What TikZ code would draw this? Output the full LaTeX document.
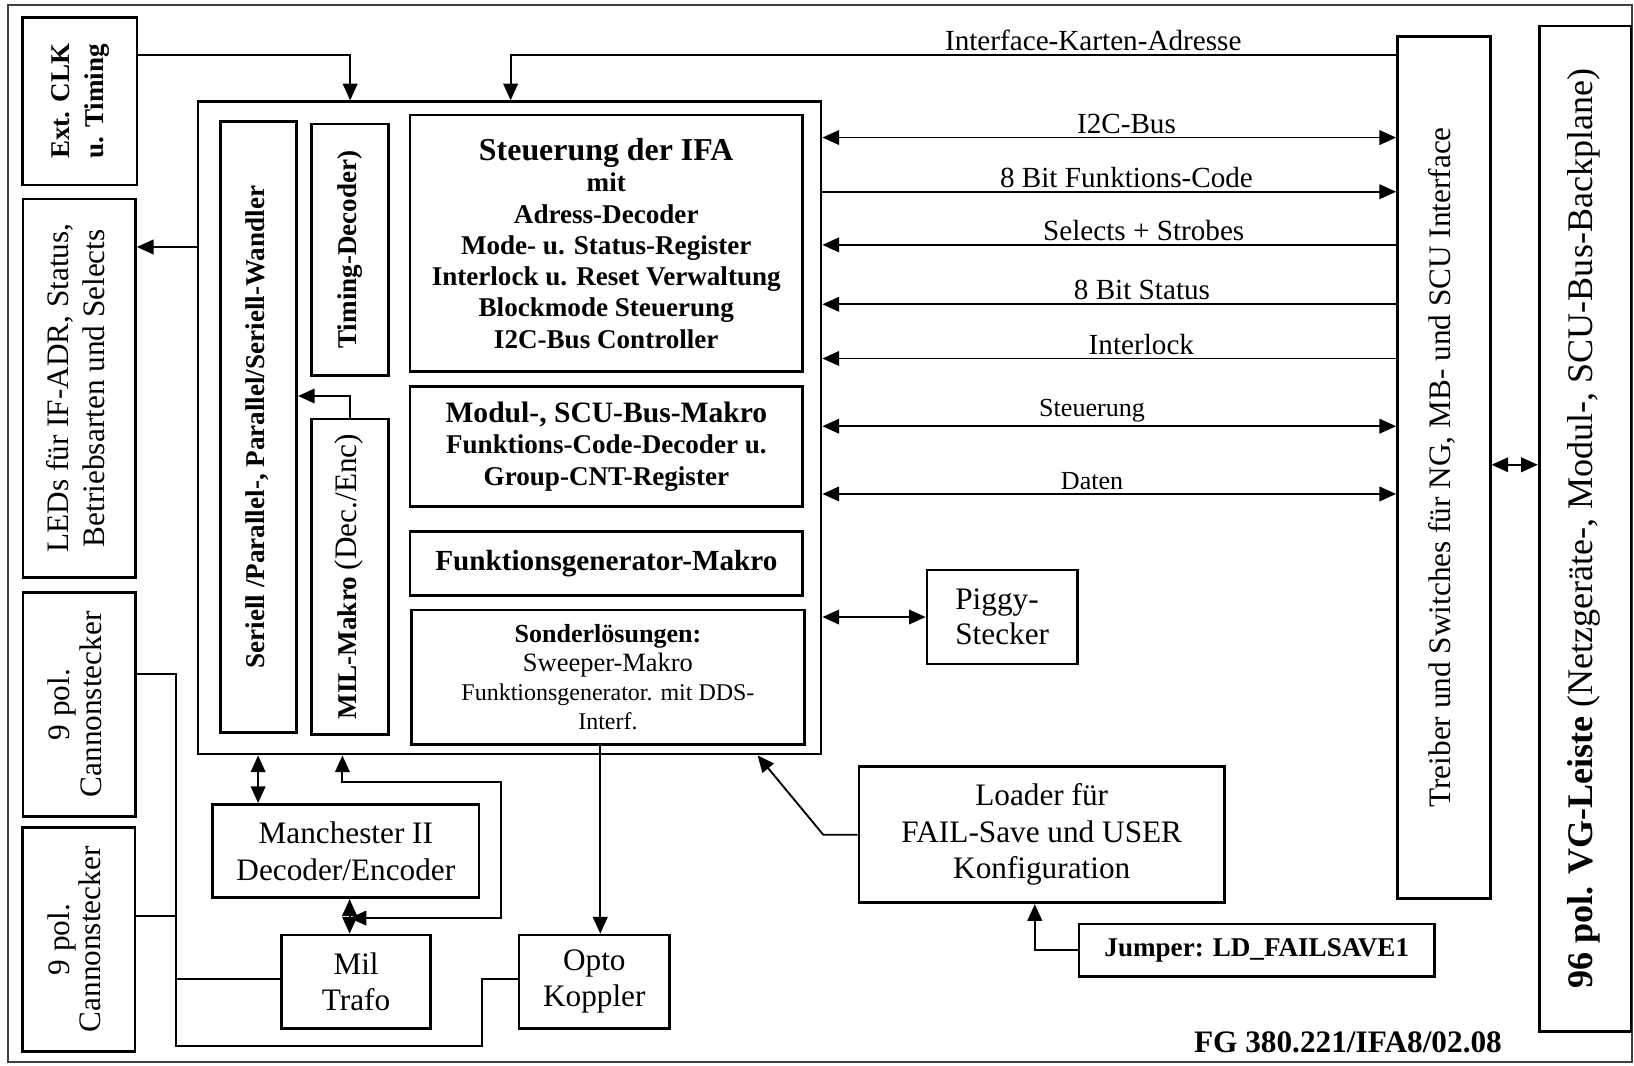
\documentclass[tikz,border=0pt]{standalone}
\usepackage{fontspec}
\setmainfont{Liberation Serif}
\usepackage{graphicx}
\usetikzlibrary{arrows.meta}

\newcommand{\fs}[2]{\fontsize{#1}{#2}\selectfont}
\newcommand{\vtext}[1]{\rotatebox{90}{\begin{tabular}{@{}c@{}}#1\end{tabular}}}

\begin{document}
\begin{tikzpicture}[x=0.5pt,y=-0.5pt,>={Triangle[length=8pt,width=7pt]},
    box/.style={draw,line width=1.3pt,inner sep=0pt,align=center},
    wire/.style={line width=0.9pt},
    lbl/.style={inner sep=1.5pt,font=\fs{14}{16}},
    slbl/.style={inner sep=1.5pt,font=\fs{12.5}{14}}]
    \useasboundingbox (0,0) rectangle (1568,1022);
    \draw[line width=0.9pt,black!75] (8,5) rectangle (1566,1019);

    \node[box,minimum width=54.85pt,minimum height=80.25pt,font=\fs{13}{16}\bfseries] (extclk) at (76.65,97.25) {\vtext{Ext. CLK\\u. Timing}};
    \node[box,minimum width=54pt,minimum height=181.5pt,font=\fs{15}{17}] (leds) at (76,372.5) {\vtext{LEDs für IF-ADR, Status,\\Betriebsarten und Selects}};
    \node[box,minimum width=54pt,minimum height=107.65pt,font=\fs{15}{15}] (canA) at (76,676) {\vtext{9 pol.\\Cannonstecker}};
    \node[box,minimum width=54pt,minimum height=107.5pt,font=\fs{15}{15}] (canB) at (75.5,901.5) {\vtext{9 pol.\\Cannonstecker}};

    \node[box,minimum width=298.9pt,minimum height=313pt] (ifa) at (489,410.6) {};
    \node[box,minimum width=36.6pt,minimum height=293.1pt,font=\fs{13}{15}\bfseries] (seriell) at (248.1,409.9) {\vtext{Seriell /Parallel-, Parallel/Seriell-Wandler}};
    \node[box,minimum width=36.85pt,minimum height=120.5pt,font=\fs{13}{15}\bfseries] (timing) at (335.85,239.5) {\vtext{Timing-Decoder)}};
    \node[box,minimum width=36.85pt,minimum height=151.3pt,font=\fs{13}{15}\bfseries] (milmak) at (335.85,553.3) {\vtext{MIL-Makro {\mdseries\fs{15}{15}(Dec./Enc)}}};
    \node[box,minimum width=188.25pt,minimum height=123.15pt,font=\fs{13}{15}\bfseries] (steuer) at (581.75,233.55)
        {{\fs{15.3}{15}Steuerung der IFA}\\mit\\Adress-Decoder\\Mode- u. Status-Register\\Interlock u. Reset Verwaltung\\Blockmode Steuerung\\I2C-Bus Controller};
    \node[box,minimum width=188.4pt,minimum height=57.5pt,font=\fs{13}{15}\bfseries] (modul) at (581.9,428.5)
        {{\fs{14.2}{15}Modul-, SCU-Bus-Makro}\\Funktions-Code-Decoder u.\\Group-CNT-Register};
    \node[box,minimum width=188.4pt,minimum height=30.85pt,font=\fs{14}{15}\bfseries] (fgen) at (581.9,540.85) {Funktionsgenerator-Makro};
    \node[box,minimum width=188.4pt,minimum height=64.45pt,font=\fs{11.5}{14}] (sonder) at (583.4,649.85)
        {{\fs{12.5}{14}\bfseries Sonderlösungen:}\\{\fs{12.7}{14}Sweeper-Makro}\\Funktionsgenerator. mit DDS-\\Interf.};

    \node[box,minimum width=72.1pt,minimum height=45.1pt,font=\fs{15}{17},align=left] (piggy) at (961.7,592.1) {Piggy-\\Stecker};
    \node[box,minimum width=175.35pt,minimum height=65.3pt,font=\fs{15}{17.5}] (loader) at (999.65,801) {Loader für\\FAIL-Save und USER\\Konfiguration};
    \node[box,minimum width=170.5pt,minimum height=25.15pt,font=\fs{13}{15}\bfseries] (jumper) at (1206,911.85) {Jumper: LD\_FAILSAVE1};

    \node[box,minimum width=127.75pt,minimum height=44.8pt,font=\fs{15}{18}] (manch) at (331.85,816.7) {Manchester II\\Decoder/Encoder};
    \node[box,minimum width=71.5pt,minimum height=44.75pt,font=\fs{15}{17.5}] (trafo) at (341.7,942) {Mil\\Trafo};
    \node[box,minimum width=72.3pt,minimum height=44.75pt,font=\fs{15}{17.5}] (opto) at (570.3,942) {Opto\\Koppler};

    \node[box,minimum width=44.5pt,minimum height=413.5pt,font=\fs{15}{17}] (treiber) at (1385.5,448.5) {\vtext{Treiber und Switches für NG, MB- und SCU Interface}};
    \node[box,minimum width=44pt,minimum height=482.5pt,font=\fs{17.3}{19}] (vgl) at (1521,507.5) {\vtext{\textbf{96 pol. VG-Leiste} (Netzgeräte-, Modul-, SCU-Bus-Backplane)}};

    \node[font=\fs{15}{17}\bfseries,inner sep=0pt] (fgnr) at (1293.5,1000.4) {FG 380.221/IFA8/02.08};

    \draw[wire,->] (extclk.east |- 0,53) -| (ifa.north -| 336,0);
    \draw[wire,->] (treiber.west |- 0,53) -| node[lbl,above,pos=.171] (lAdr) {Interface-Karten-Adresse} (ifa.north -| 490,0);

    \draw[wire,<->] (ifa.east |- 0,132) -- node[lbl,above,pos=.53] (lI2C) {I2C-Bus} (treiber.west |- 0,132);
    \draw[wire,->] (ifa.east |- 0,184) -- node[lbl,above,pos=.53] (lFC) {8 Bit Funktions-Code} (treiber.west |- 0,184);
    \draw[wire,<-] (ifa.east |- 0,235) -- node[lbl,above,pos=.56] (lSel) {Selects + Strobes} (treiber.west |- 0,235);
    \draw[wire,<-] (ifa.east |- 0,292) -- node[lbl,above,pos=.557] (lStat) {8 Bit Status} (treiber.west |- 0,292);
    \draw[wire,<-] (ifa.east |- 0,344) -- node[lbl,above,pos=.556] (lIlk) {Interlock} (treiber.west |- 0,344);
    \draw[wire,<->] (ifa.east |- 0,409) -- node[slbl,above,pos=.47] (lStr) {Steuerung} (treiber.west |- 0,409);
    \draw[wire,<->] (ifa.east |- 0,474) -- node[slbl,above,pos=.47] (lDat) {Daten} (treiber.west |- 0,474);
    \draw[wire,<->] (treiber.east |- 0,446) -- (vgl.west |- 0,446);

    \draw[wire,->] (ifa.west |- 0,237) -- (leds.east |- 0,237);
    \draw[wire,->] (milmak.north) |- (seriell.east |- 0,380);
    \draw[wire,<->] (ifa.east |- piggy.west) -- (piggy.west);
    \draw[wire,->] (loader.west) -- ++(-33,0) -- (ifa.south -| 727,0);
    \draw[wire,->] (jumper.west) -| (loader.south -| 993,0);
    \draw[wire,->] (sonder.south -| 576,0) -- (opto.north -| 576,0);

    \coordinate (mt) at (335.5,881);
    \draw[wire,<->] (ifa.south -| 247.7,0) -- (manch.north -| 247.7,0);
    \draw[wire,<->] (manch.south -| mt) -- (trafo.north -| mt);
    \draw[wire,<->] (ifa.south -| 328.6,0) |- (481,750) |- (mt);

    \draw[wire] (canA.east |- 0,647) -| (168.5,1003.8) -| (462.7,939.5) -- (opto.west |- 0,939.5);
    \draw[wire] (canB.east |- 0,879) -- (168.5,879);
    \draw[wire] (168.5,939.5) -- (trafo.west |- 0,939.5);
\end{tikzpicture}
\end{document}
